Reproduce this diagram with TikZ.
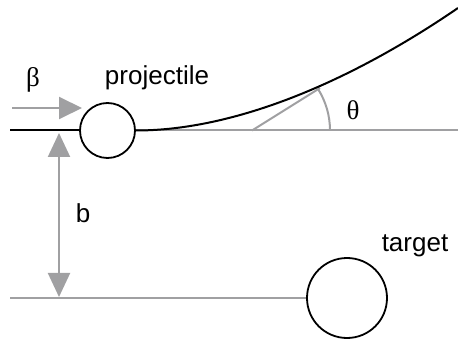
\documentclass[tikz,border=0pt]{standalone}
\usepackage{fontspec}
\setmainfont{Liberation Sans}
\newfontfamily\grk{Liberation Serif}
\usetikzlibrary{arrows.meta}
\definecolor{lg}{RGB}{160,160,162}
\begin{document}
\begin{tikzpicture}[x=1pt,y=-1pt,
  ball/.style={circle,draw=black,line width=1.8pt,inner sep=0pt},
  gline/.style={draw=lg,line width=2pt},
  bline/.style={draw=black,line width=2pt},
  tip/.style={-{Triangle[length=23pt,width=22pt]}},
  lbl/.style={font=\fontsize{26}{30}\selectfont,inner sep=0pt},
  glbl/.style={font=\grk\fontsize{27}{30}\selectfont,inner sep=0pt}]
\useasboundingbox (0,0) rectangle (458,339);
% nodes
\node[ball,minimum size=55pt] (proj) at (107.5,130.5) {};
\node[ball,minimum size=80pt] (targ) at (347,298) {};
\node[glbl] (beta) at (33,80) {β};
\node[lbl] (projlbl) at (157,78) {projectile};
\node[glbl] (theta) at (353,110) {θ};
\node[lbl] (blbl) at (83,213) {b};
\node[lbl] (targlbl) at (415,246) {target};
% coordinates
\coordinate (lstart) at (10,130.5);
\coordinate (rend) at (458,130.5);
\coordinate (bstart) at (10,298);
\coordinate (astart) at (12,108);
\coordinate (aend) at (82,108);
\coordinate (vtop) at (59,133);
\coordinate (vbot) at (59,297);
\coordinate (tA) at (252,130.5);
\coordinate (tB) at (320,88);
\coordinate (cend) at (458,8);
% gray lines
\draw[gline] (proj.east) -- (rend);
\draw[gline] (bstart) -- (targ.west);
\draw[gline] (tA) -- (tB);
\draw[gline] (330,130.5) arc[start angle=0,end angle=-31.7,radius=78];
\draw[gline,tip,fill=lg] (astart) -- (aend);
\draw[gline,{Triangle[length=24pt,width=22pt]}-{Triangle[length=24pt,width=22pt]},fill=lg] (vtop) -- (vbot);
% black lines
\draw[bline] (lstart) -- (proj.west);
\draw[bline] (proj.east) .. controls (235,130.5) and (350,82) .. (cend);
\end{tikzpicture}
\end{document}
